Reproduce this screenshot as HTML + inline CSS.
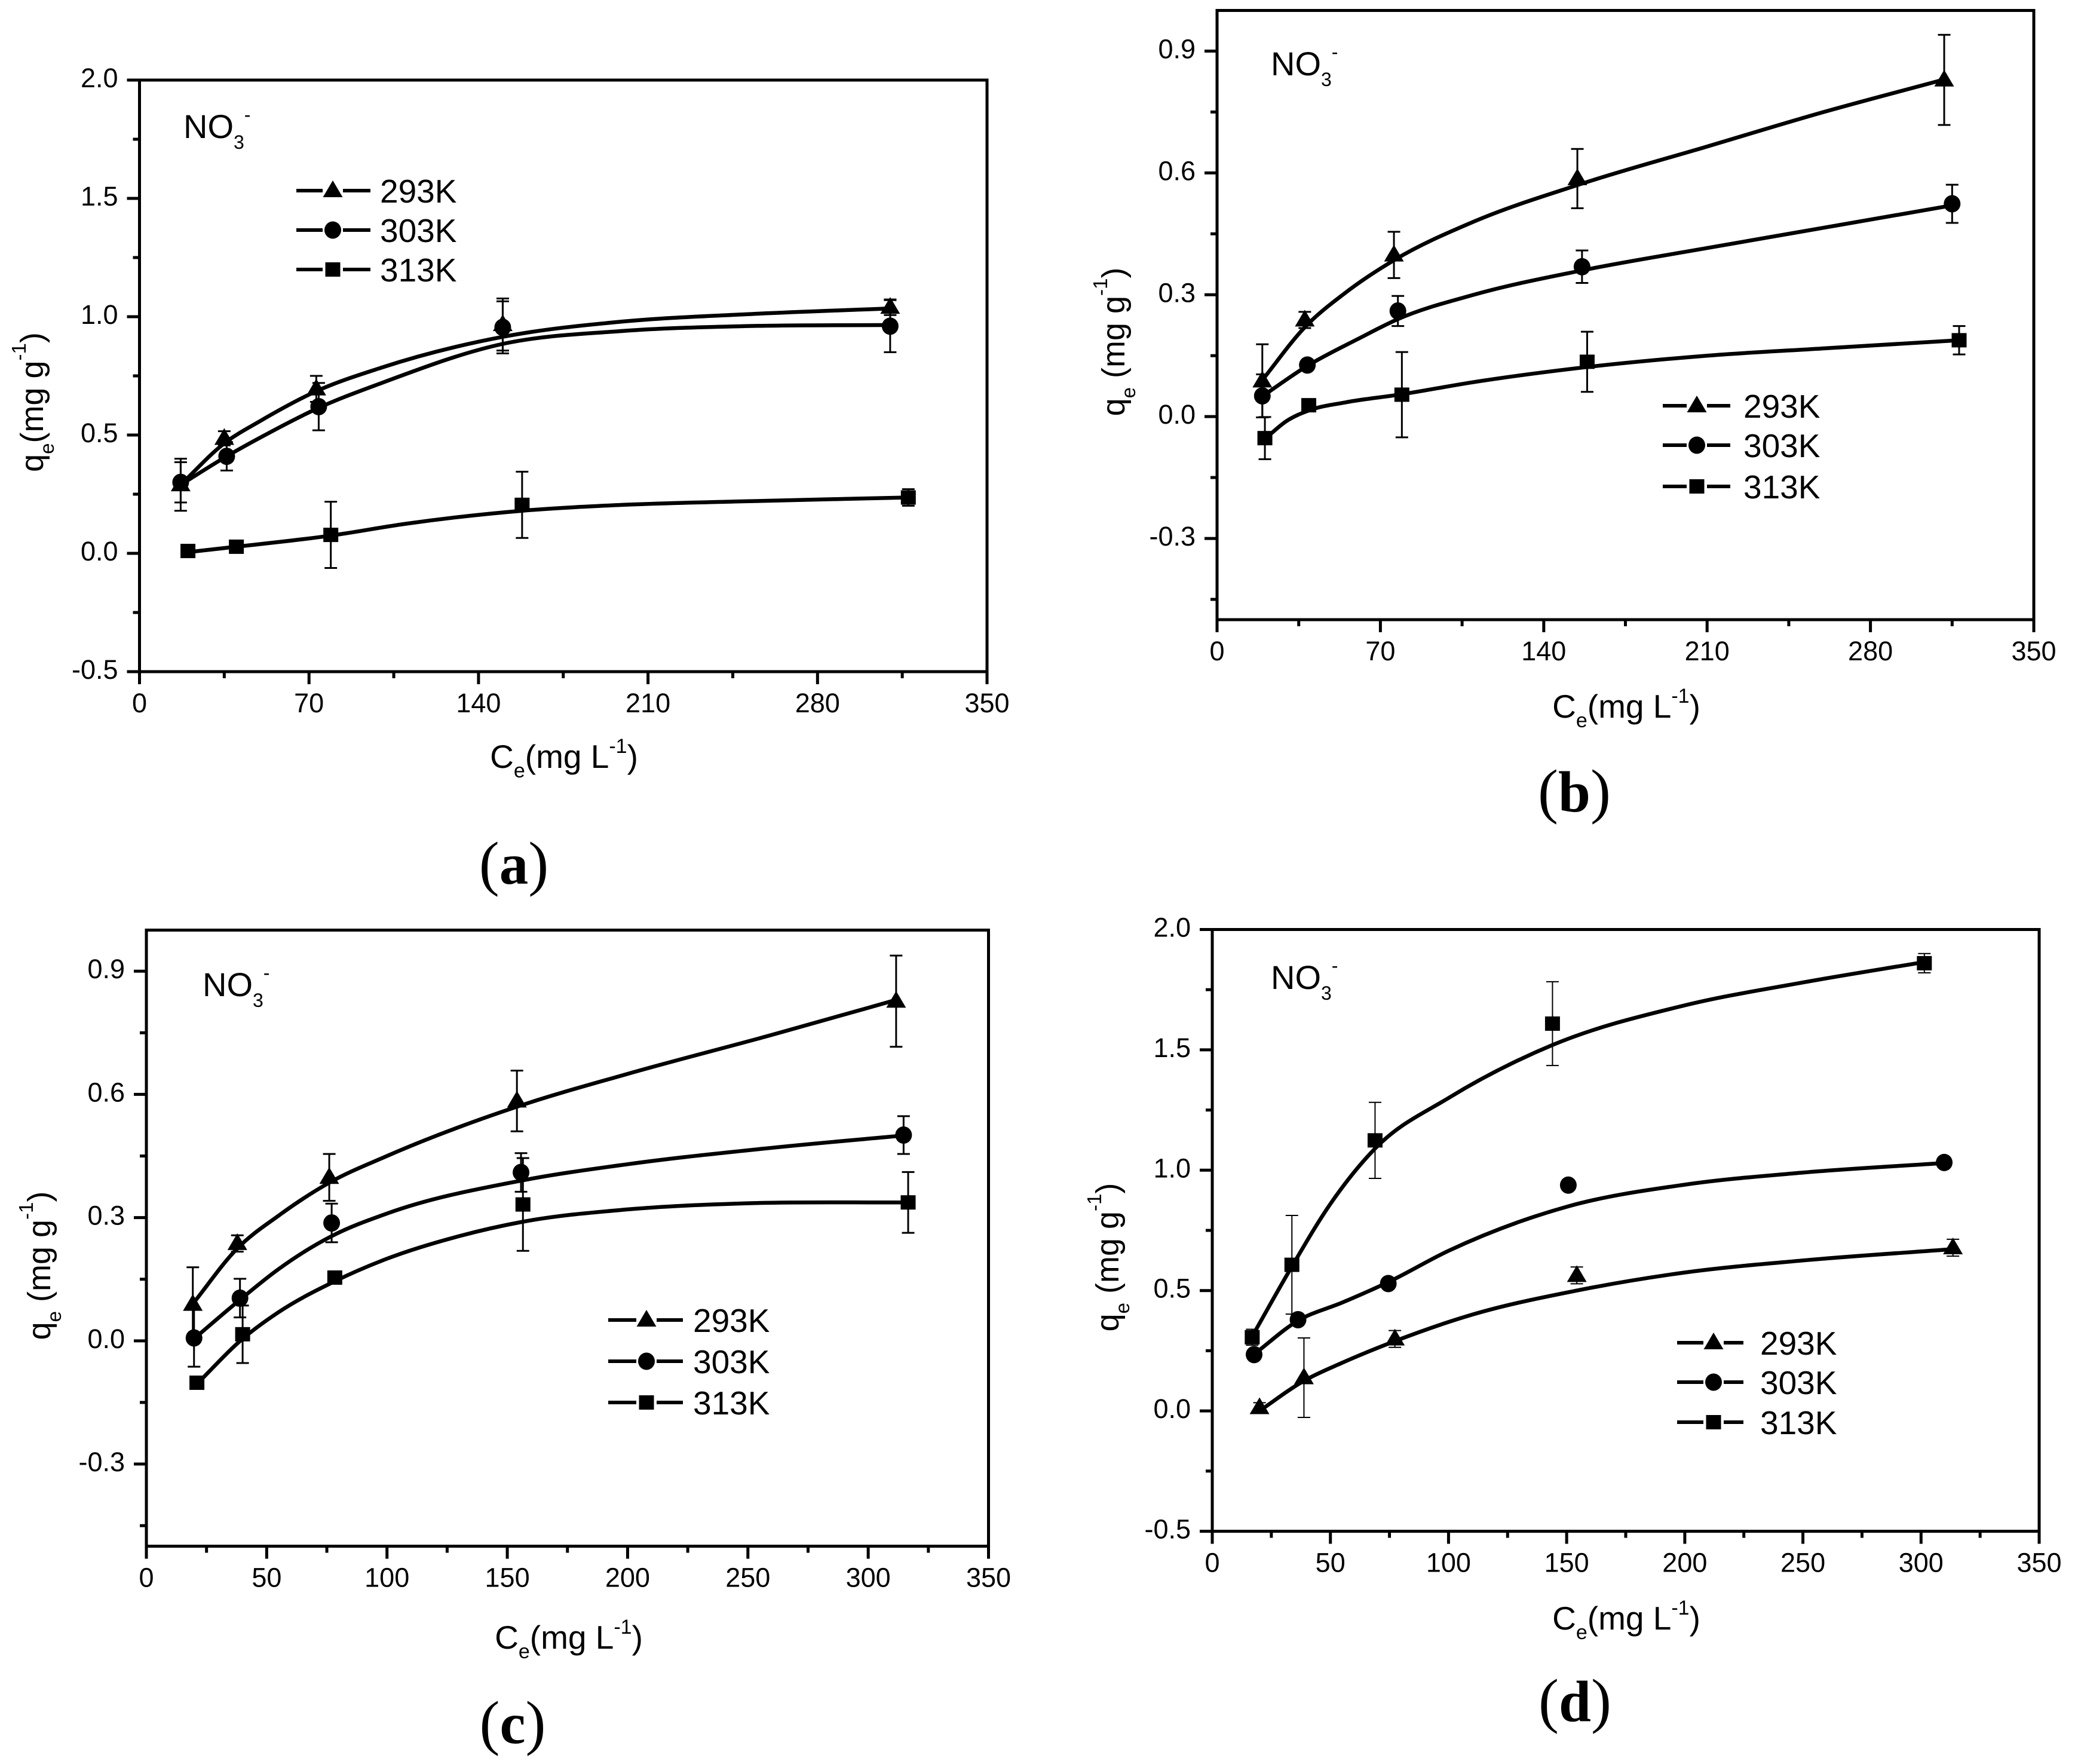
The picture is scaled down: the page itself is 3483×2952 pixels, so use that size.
<!DOCTYPE html>
<html>
<head>
<meta charset="utf-8">
<title>NO3- adsorption isotherms</title>
<style>
html,body{margin:0;padding:0;background:#fff}
svg{display:block}
text{font-family:"Liberation Sans",Arial,sans-serif;fill:#000}
.lab{font-family:"Liberation Serif",serif;font-weight:normal;font-size:102px}
.lab .ltr{font-weight:bold;font-size:97px}
</style>
</head>
<body>
<svg id="figure" xmlns="http://www.w3.org/2000/svg" width="3483" height="2952" viewBox="0 0 3483 2952">
<rect width="3483" height="2952" fill="#fff"/>

<g>
<text class="lab" x="860" y="1479" text-anchor="middle">(<tspan class="ltr">a</tspan>)</text>
<text x="944" y="1285" font-size="55" text-anchor="middle">C<tspan dy="16" font-size="34">e</tspan><tspan dy="-16">(mg L</tspan><tspan dy="-25" font-size="34">-1</tspan><tspan dy="25">)</tspan></text>
<text transform="translate(72,673) rotate(-90)" font-size="54" text-anchor="middle">q<tspan dy="18" font-size="33">e</tspan><tspan dy="-18">(mg g</tspan><tspan dy="-29" font-size="33">-1</tspan><tspan dy="29">)</tspan></text>
<text x="307" y="231" font-size="56">NO<tspan dy="18" font-size="32">3</tspan><tspan dy="-46" font-size="32">-</tspan></text>
<text x="636" y="339" font-size="55">293K</text>
<text x="636" y="405" font-size="55">303K</text>
<text x="636" y="471" font-size="55">313K</text>
</g>

<g>
<text class="lab" x="2635" y="1358" text-anchor="middle">(<tspan class="ltr">b</tspan>)</text>
<text x="2722" y="1201" font-size="55" text-anchor="middle">C<tspan dy="16" font-size="34">e</tspan><tspan dy="-16">(mg L</tspan><tspan dy="-25" font-size="34">-1</tspan><tspan dy="25">)</tspan></text>
<text transform="translate(1882,572) rotate(-90)" font-size="54" text-anchor="middle">q<tspan dy="18" font-size="33">e</tspan><tspan dy="-18"> (mg g</tspan><tspan dy="-29" font-size="33">-1</tspan><tspan dy="29">)</tspan></text>
<text x="2127" y="126" font-size="56">NO<tspan dy="18" font-size="32">3</tspan><tspan dy="-46" font-size="32">-</tspan></text>
<text x="2918" y="699" font-size="55">293K</text>
<text x="2918" y="765" font-size="55">303K</text>
<text x="2918" y="834" font-size="55">313K</text>
</g>

<g>
<text class="lab" x="858" y="2917" text-anchor="middle">(<tspan class="ltr">c</tspan>)</text>
<text x="952" y="2759" font-size="55" text-anchor="middle">C<tspan dy="16" font-size="34">e</tspan><tspan dy="-16">(mg L</tspan><tspan dy="-25" font-size="34">-1</tspan><tspan dy="25">)</tspan></text>
<text transform="translate(84,2118) rotate(-90)" font-size="54" text-anchor="middle">q<tspan dy="18" font-size="33">e</tspan><tspan dy="-18"> (mg g</tspan><tspan dy="-29" font-size="33">-1</tspan><tspan dy="29">)</tspan></text>
<text x="339" y="1667" font-size="56">NO<tspan dy="18" font-size="32">3</tspan><tspan dy="-46" font-size="32">-</tspan></text>
<text x="1160" y="2229" font-size="55">293K</text>
<text x="1160" y="2298" font-size="55">303K</text>
<text x="1160" y="2367" font-size="55">313K</text>
</g>

<g>
<text class="lab" x="2636" y="2880" text-anchor="middle">(<tspan class="ltr">d</tspan>)</text>
<text x="2722" y="2727" font-size="55" text-anchor="middle">C<tspan dy="16" font-size="34">e</tspan><tspan dy="-16">(mg L</tspan><tspan dy="-25" font-size="34">-1</tspan><tspan dy="25">)</tspan></text>
<text transform="translate(1872,2104) rotate(-90)" font-size="54" text-anchor="middle">q<tspan dy="18" font-size="33">e</tspan><tspan dy="-18"> (mg g</tspan><tspan dy="-29" font-size="33">-1</tspan><tspan dy="29">)</tspan></text>
<text x="2127" y="1655" font-size="56">NO<tspan dy="18" font-size="32">3</tspan><tspan dy="-46" font-size="32">-</tspan></text>
<text x="2946" y="2267" font-size="55">293K</text>
<text x="2946" y="2333" font-size="55">303K</text>
<text x="2946" y="2400" font-size="55">313K</text>
</g>
</svg>

<script>
// ---------- tick values and labels ----------
const xTicksA = [0, 70, 140, 210, 280, 350];
const xLabelsA = ['0', '70', '140', '210', '280', '350'];
const yTicksA = [-0.5, 0, 0.5, 1, 1.5, 2];
const yLabelsA = ['-0.5', '0.0', '0.5', '1.0', '1.5', '2.0'];
const xTicksB = [0, 70, 140, 210, 280, 350];
const xLabelsB = ['0', '70', '140', '210', '280', '350'];
const yTicksB = [-0.3, 0, 0.3, 0.6, 0.9];
const yLabelsB = ['-0.3', '0.0', '0.3', '0.6', '0.9'];
const xTicksC = [0, 50, 100, 150, 200, 250, 300, 350];
const xLabelsC = ['0', '50', '100', '150', '200', '250', '300', '350'];
const yTicksC = [-0.3, 0, 0.3, 0.6, 0.9];
const yLabelsC = ['-0.3', '0.0', '0.3', '0.6', '0.9'];
const xTicksD = [0, 50, 100, 150, 200, 250, 300, 350];
const xLabelsD = ['0', '50', '100', '150', '200', '250', '300', '350'];
const yTicksD = [-0.5, 0, 0.5, 1, 1.5, 2];
const yLabelsD = ['-0.5', '0.0', '0.5', '1.0', '1.5', '2.0'];

// ---------- panel a ----------
const a293X = [17, 35, 73, 150, 310];
const a293Y = [0.29, 0.486, 0.695, 0.967, 1.04];
const a293Err = [0.11, 0.03, 0.055, 0.11, 0.033];
const a293FitX = [17, 35, 50, 73, 100, 150, 200, 250, 310];
const a293FitY = [0.29, 0.465, 0.56, 0.685, 0.785, 0.915, 0.98, 1.01, 1.035];
const a303X = [17, 36, 74, 150, 310];
const a303Y = [0.30, 0.41, 0.62, 0.955, 0.96];
const a303Err = [0.085, 0.06, 0.10, 0.11, 0.11];
const a303FitX = [17, 36, 50, 74, 100, 150, 200, 250, 310];
const a303FitY = [0.29, 0.41, 0.49, 0.615, 0.72, 0.885, 0.94, 0.96, 0.965];
const a313X = [20, 40, 79, 158, 317.5];
const a313Y = [0.01, 0.028, 0.078, 0.205, 0.236];
const a313Err = [0, 0, 0.14, 0.14, 0.035];
const a313FitX = [20, 40, 79, 110, 158, 200, 250, 317.5];
const a313FitY = [0.005, 0.028, 0.075, 0.125, 0.18, 0.205, 0.22, 0.236];

// ---------- panel b ----------
const b293X = [19.4, 37.6, 75.8, 154.4, 311.6];
const b293Y = [0.088, 0.238, 0.398, 0.586, 0.829];
const b293Err = [0.09, 0.02, 0.057, 0.073, 0.111];
const b293FitX = [19.4, 37.6, 55, 75.8, 110, 154.4, 210, 260, 311.6];
const b293FitY = [0.09, 0.22, 0.305, 0.385, 0.48, 0.57, 0.665, 0.75, 0.83];
const b303X = [19.4, 38.7, 77.5, 156.4, 315];
const b303Y = [0.051, 0.127, 0.26, 0.369, 0.524];
const b303Err = [0.053, 0.01, 0.037, 0.04, 0.047];
const b303FitX = [19.4, 38.7, 60, 77.5, 110, 156.4, 210, 260, 315];
const b303FitY = [0.05, 0.125, 0.19, 0.24, 0.3, 0.36, 0.415, 0.465, 0.52];
const b313X = [20.5, 39.3, 79.2, 158.6, 318];
const b313Y = [-0.053, 0.028, 0.054, 0.135, 0.188];
const b313Err = [0.052, 0.005, 0.105, 0.074, 0.035];
const b313FitX = [20.5, 30, 39.3, 55, 79.2, 110, 158.6, 210, 260, 318];
const b313FitY = [-0.055, -0.01, 0.015, 0.035, 0.055, 0.085, 0.122, 0.15, 0.168, 0.188];

// ---------- panel c ----------
const c293X = [19.3, 37.8, 76, 154, 311.6];
const c293Y = [0.089, 0.237, 0.398, 0.584, 0.827];
const c293Err = [0.09, 0.02, 0.057, 0.074, 0.111];
const c293FitX = [19.3, 37.8, 55, 76, 100, 154, 200, 260, 311.6];
const c293FitY = [0.09, 0.225, 0.305, 0.385, 0.45, 0.57, 0.65, 0.745, 0.83];
const c303X = [19.8, 38.9, 77, 155.7, 314.7];
const c303Y = [0.007, 0.104, 0.287, 0.41, 0.501];
const c303Err = [0.07, 0.047, 0.047, 0.047, 0.046];
const c303FitX = [19.8, 38.9, 55, 77, 100, 155.7, 200, 260, 314.7];
const c303FitY = [0.005, 0.1, 0.175, 0.255, 0.31, 0.39, 0.43, 0.47, 0.5];
const c313X = [21, 40, 78.3, 156.5, 316.6];
const c313Y = [-0.102, 0.016, 0.154, 0.332, 0.337];
const c313Err = [0.01, 0.07, 0.01, 0.113, 0.074];
const c313FitX = [21, 40, 55, 78.3, 100, 130, 156.5, 200, 250, 316.6];
const c313FitY = [-0.105, 0.005, 0.07, 0.145, 0.2, 0.255, 0.29, 0.32, 0.335, 0.337];

// ---------- panel d ----------
const d293X = [20, 38.8, 77.3, 154.3, 313.5];
const d293Y = [0.014, 0.138, 0.299, 0.563, 0.678];
const d293Err = [0.02, 0.165, 0.035, 0.035, 0.035];
const d293FitX = [20, 38.8, 55, 77.3, 110, 154.3, 200, 250, 313.5];
const d293FitY = [0, 0.125, 0.2, 0.29, 0.4, 0.5, 0.575, 0.625, 0.672];
const d303X = [17.7, 36.3, 74.5, 150.7, 309.8];
const d303Y = [0.234, 0.379, 0.529, 0.938, 1.032];
const d303Err = [0.01, 0.02, 0.01, 0, 0.01];
const d303FitX = [17.7, 36.3, 55, 74.5, 100, 150.7, 200, 250, 309.8];
const d303FitY = [0.235, 0.375, 0.45, 0.535, 0.665, 0.85, 0.94, 0.99, 1.03];
const d313X = [16.9, 33.7, 68.9, 144, 301.4];
const d313Y = [0.306, 0.607, 1.124, 1.609, 1.86];
const d313Err = [0.033, 0.205, 0.158, 0.174, 0.04];
const d313FitX = [16.9, 33.7, 50, 68.9, 100, 144, 200, 250, 301.4];
const d313FitY = [0.31, 0.6, 0.86, 1.09, 1.3, 1.52, 1.685, 1.78, 1.865];

// ---------- layout ----------
const panels = [
  {id:'a', left:233.5, right:1652, top:134, bottom:1124, xMax:350, yMin:-0.5, yMax:2, errW:3,
   xTicks:xTicksA, xLabels:xLabelsA, yTicks:yTicksA, yLabels:yLabelsA,
   legend:{x1:496, x2:620, cx:557, ys:[319,385,451]},
   series:[
    {name:'293k', shape:'tri', x:a293X, y:a293Y, e:a293Err, fx:a293FitX, fy:a293FitY},
    {name:'303k', shape:'cir', x:a303X, y:a303Y, e:a303Err, fx:a303FitX, fy:a303FitY},
    {name:'313k', shape:'sq',  x:a313X, y:a313Y, e:a313Err, fx:a313FitX, fy:a313FitY}]},
  {id:'b', left:2037, right:3404, top:17.5, bottom:1037, xMax:350, yMin:-0.5, yMax:1, errW:3,
   xTicks:xTicksB, xLabels:xLabelsB, yTicks:yTicksB, yLabels:yLabelsB,
   legend:{x1:2783, x2:2896, cx:2840, ys:[679,745,814]},
   series:[
    {name:'293k', shape:'tri', x:b293X, y:b293Y, e:b293Err, fx:b293FitX, fy:b293FitY},
    {name:'303k', shape:'cir', x:b303X, y:b303Y, e:b303Err, fx:b303FitX, fy:b303FitY},
    {name:'313k', shape:'sq',  x:b313X, y:b313Y, e:b313Err, fx:b313FitX, fy:b313FitY}]},
  {id:'c', left:245, right:1654.5, top:1556.5, bottom:2587.5, xMax:350, yMin:-0.5, yMax:1, errW:3,
   xTicks:xTicksC, xLabels:xLabelsC, yTicks:yTicksC, yLabels:yLabelsC,
   legend:{x1:1018, x2:1143, cx:1082, ys:[2209,2278,2347]},
   series:[
    {name:'293k', shape:'tri', x:c293X, y:c293Y, e:c293Err, fx:c293FitX, fy:c293FitY},
    {name:'303k', shape:'cir', x:c303X, y:c303Y, e:c303Err, fx:c303FitX, fy:c303FitY},
    {name:'313k', shape:'sq',  x:c313X, y:c313Y, e:c313Err, fx:c313FitX, fy:c313FitY}]},
  {id:'d', left:2029, right:3413, top:1555.5, bottom:2562.5, xMax:350, yMin:-0.5, yMax:2, errW:2,
   xTicks:xTicksD, xLabels:xLabelsD, yTicks:yTicksD, yLabels:yLabelsD,
   legend:{x1:2807, x2:2918, cx:2868, ys:[2247,2313,2380]},
   series:[
    {name:'293k', shape:'tri', x:d293X, y:d293Y, e:d293Err, fx:d293FitX, fy:d293FitY},
    {name:'303k', shape:'cir', x:d303X, y:d303Y, e:d303Err, fx:d303FitX, fy:d303FitY},
    {name:'313k', shape:'sq',  x:d313X, y:d313Y, e:d313Err, fx:d313FitX, fy:d313FitY}]}
];

const NS = 'http://www.w3.org/2000/svg';
const root = document.getElementById('figure');

function mk(tag, parent, attrs) {
  const n = document.createElementNS(NS, tag);
  for (const k in attrs) n.setAttribute(k, attrs[k]);
  parent.appendChild(n);
  return n;
}

function smoothPath(pts) {
  const n = pts.length, h = [], d = [], m = [];
  for (let i = 0; i < n - 1; i++) {
    h.push(pts[i + 1][0] - pts[i][0]);
    d.push((pts[i + 1][1] - pts[i][1]) / h[i]);
  }
  m[0] = d[0];
  m[n - 1] = d[n - 2];
  for (let i = 1; i < n - 1; i++) {
    m[i] = (d[i - 1] * h[i] + d[i] * h[i - 1]) / (h[i - 1] + h[i]);
  }
  let s = 'M' + pts[0][0].toFixed(1) + ' ' + pts[0][1].toFixed(1);
  for (let i = 0; i < n - 1; i++) {
    const t = h[i] / 3;
    s += 'C' + (pts[i][0] + t).toFixed(1) + ' ' + (pts[i][1] + m[i] * t).toFixed(1) + ' ' +
         (pts[i + 1][0] - t).toFixed(1) + ' ' + (pts[i + 1][1] - m[i + 1] * t).toFixed(1) + ' ' +
         pts[i + 1][0].toFixed(1) + ' ' + pts[i + 1][1].toFixed(1);
  }
  return s;
}

function marker(parent, shape, cx, cy) {
  let el;
  if (shape === 'tri') {
    el = mk('polygon', parent, {points: (cx) + ',' + (cy - 17) + ' ' + (cx - 16.5) + ',' + (cy + 11) + ' ' + (cx + 16.5) + ',' + (cy + 11), fill: '#000'});
  } else if (shape === 'cir') {
    el = mk('ellipse', parent, {cx: cx, cy: cy, rx: 14, ry: 14.5, fill: '#000'});
  } else {
    el = mk('rect', parent, {x: cx - 12.5, y: cy - 12, width: 25, height: 24, fill: '#000'});
  }
  return el;
}

function midpoints(ticks, lo, hi) {
  const step = ticks[1] - ticks[0], out = [];
  for (let i = -1; i < ticks.length; i++) {
    const v = ticks[0] + (i + 0.5) * step;
    if (v > lo + 1e-6 && v < hi - 1e-6) out.push(v);
  }
  return out;
}

panels.forEach(function (p) {
  const sx = function (v) { return p.left + (v / p.xMax) * (p.right - p.left); };
  const sy = function (v) { return p.bottom - ((v - p.yMin) / (p.yMax - p.yMin)) * (p.bottom - p.top); };

  const g = mk('g', root, {});
  
  

  const frame = mk('rect', g, {x: p.left, y: p.top, width: p.right - p.left, height: p.bottom - p.top, fill: 'none', stroke: '#000', 'stroke-width': 5});
  
  

  p.xTicks.forEach(function (v, i) {
    const t = mk('line', g, {x1: sx(v), x2: sx(v), y1: p.bottom, y2: p.bottom + 21, stroke: '#000', 'stroke-width': 5});
    
    
    const lab = mk('text', g, {x: sx(v), y: p.bottom + 68, 'font-size': 45, 'text-anchor': 'middle'});
    lab.textContent = p.xLabels[i];
    
    
  });
  midpoints(p.xTicks, 0, p.xMax).forEach(function (v) {
    const t = mk('line', g, {x1: sx(v), x2: sx(v), y1: p.bottom, y2: p.bottom + 11, stroke: '#000', 'stroke-width': 5});
    
    
  });
  p.yTicks.forEach(function (v, i) {
    const t = mk('line', g, {x1: p.left - 21, x2: p.left, y1: sy(v), y2: sy(v), stroke: '#000', 'stroke-width': 5});
    
    
    const lab = mk('text', g, {x: p.left - 36, y: sy(v) + 12, 'font-size': 45, 'text-anchor': 'end'});
    lab.textContent = p.yLabels[i];
    
    
  });
  midpoints(p.yTicks, p.yMin, p.yMax).forEach(function (v) {
    const t = mk('line', g, {x1: p.left - 11, x2: p.left, y1: sy(v), y2: sy(v), stroke: '#000', 'stroke-width': 5});
    
    
  });

  p.series.forEach(function (s, si) {
    const sg = mk('g', g, {});
    
    

    s.x.forEach(function (xv, i) {
      if (s.e[i] <= 0) return;
      const X = sx(xv), hi = sy(s.y[i] + s.e[i]), lo = sy(s.y[i] - s.e[i]);
      const bar = mk('path', sg, {d: 'M' + X + ' ' + hi + 'V' + lo + 'M' + (X - 10.5) + ' ' + hi + 'H' + (X + 10.5) + 'M' + (X - 10.5) + ' ' + lo + 'H' + (X + 10.5), stroke: '#000', 'stroke-width': p.errW, fill: 'none'});
      
      
    });

    const pts = s.fx.map(function (xv, i) { return [sx(xv), sy(s.fy[i])]; });
    const curve = mk('path', sg, {d: smoothPath(pts), fill: 'none', stroke: '#000', 'stroke-width': 6.5, 'stroke-linecap': 'round'});
    
    

    s.x.forEach(function (xv, i) {
      const m = marker(sg, s.shape, sx(xv), sy(s.y[i]));
      
      
    });

    const ly = p.legend.ys[si];
    const keyL = mk('line', g, {x1: p.legend.x1, x2: p.legend.cx - 17, y1: ly, y2: ly, stroke: '#000', 'stroke-width': 6});
    
    
    const keyR = mk('line', g, {x1: p.legend.cx + 17, x2: p.legend.x2, y1: ly, y2: ly, stroke: '#000', 'stroke-width': 6});
    
    
    const km = marker(g, s.shape, p.legend.cx, ly);
    
    
  });
});
</script>
</body>
</html>
